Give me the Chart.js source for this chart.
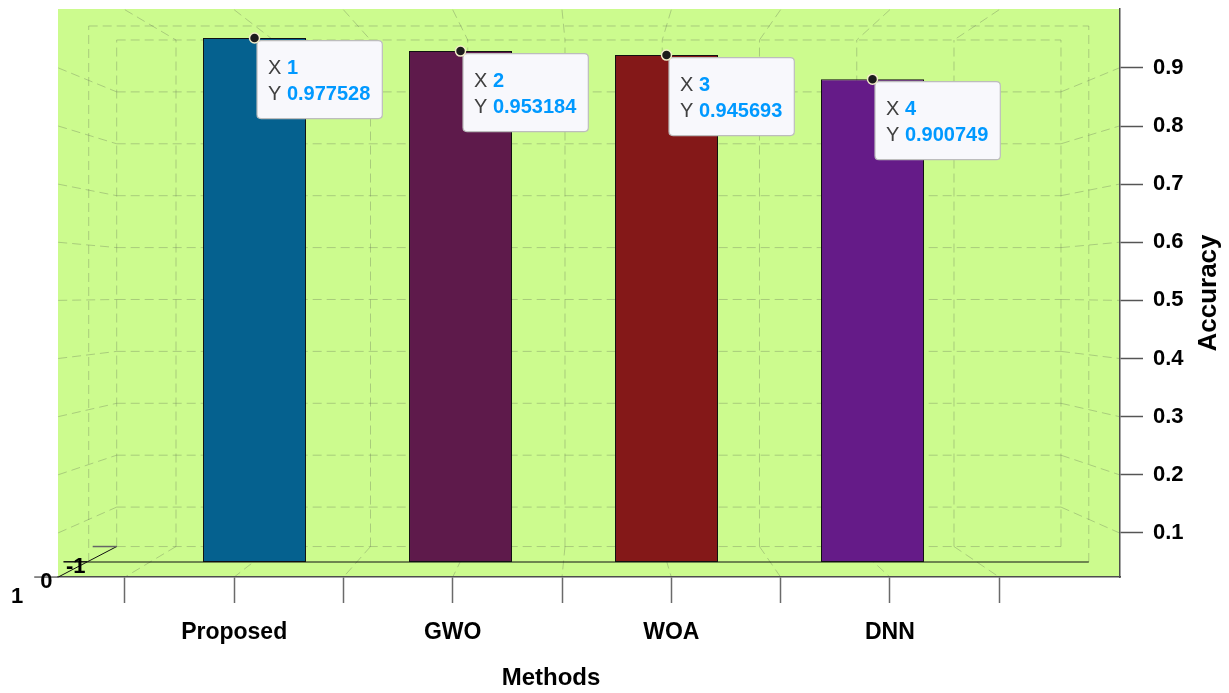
<!DOCTYPE html>
<html>
<head>
<meta charset="utf-8">
<title>Accuracy by method</title>
<script src="https://cdn.jsdelivr.net/npm/chart.js@4/dist/chart.umd.min.js"></script>
<style>
  html, body { margin: 0; padding: 0; background: #ffffff; }
  #wrap { width: 1229px; height: 693px; position: relative; }
</style>
</head>
<body>
<div id="wrap"><canvas id="chart"></canvas></div>
<script>
// ---- data ----
const methods = ['Proposed', 'GWO', 'WOA', 'DNN'];
const methodIndex = [1, 2, 3, 4];
const accuracy = [0.977528, 0.953184, 0.945693, 0.900749];
const accuracyTicks = [0.1, 0.2, 0.3, 0.4, 0.5, 0.6, 0.7, 0.8, 0.9];
const methodTicks = [0.5, 1, 1.5, 2, 2.5, 3, 3.5, 4, 4.5];
const depthTicks = [1, 0, -1];
const depthLabels = ['1', '0', '-1'];

// ---- styles ----
const barColors = ['#05618f', '#5e1a4b', '#841818', '#651b88'];
const FONT = "'Liberation Sans', Arial, Helvetica, sans-serif";
const PANEL = '#ccfb8e';
const GRID = 'rgba(85, 95, 80, 0.30)';

// box limits of the 3-D axes (x in method units, z in accuracy units)
const X_LIM = [0.195, 5.05];
const Z_LIM = [0.024, 1.0];

// front, bar and back planes of the perspective box share the canvas area
// but each has its own scale pair.
const P = (sx, sy, u, v) => [sx.getPixelForValue(u), sy.getPixelForValue(v)];

const panel = {
  id: 'panel',
  beforeDraw(chart) {
    const { ctx, chartArea: a } = chart;
    ctx.save();
    ctx.fillStyle = PANEL;
    ctx.fillRect(a.left, a.top, a.width, a.height);
    ctx.restore();
  }
};

const perspectiveGrid = {
  id: 'perspectiveGrid',
  beforeDatasetsDraw(chart) {
    const { ctx, chartArea: a, scales: s } = chart;
    const xf = s.x, yf = s.y, xm = s.xBar, ym = s.yBar, xb = s.xBack, yb = s.yBack;
    const [x0, x1] = X_LIM, [zLo, zHi] = Z_LIM;
    const seg = (p, q) => { ctx.beginPath(); ctx.moveTo(p[0], p[1]); ctx.lineTo(q[0], q[1]); ctx.stroke(); };
    ctx.save();
    ctx.beginPath(); ctx.rect(a.left, a.top, a.width, a.height); ctx.clip();
    ctx.setLineDash([9, 5]);
    ctx.strokeStyle = GRID;
    ctx.lineWidth = 1;

    // back wall
    accuracyTicks.concat([zLo, zHi]).forEach(z => seg(P(xb, yb, x0, z), P(xb, yb, x1, z)));
    methodTicks.concat([x0, x1]).forEach(u => seg(P(xb, yb, u, zLo), P(xb, yb, u, zHi)));

    // side walls
    accuracyTicks.forEach(z => {
      seg(P(xf, yf, x0, z), P(xb, yb, x0, z));
      seg(P(xb, yb, x1, z), P(xf, yf, x1, z));
    });

    // ceiling and floor
    methodTicks.forEach(u => {
      seg(P(xf, yf, u, zHi), P(xb, yb, u, zHi));
      seg(P(xb, yb, u, zLo), P(xf, yf, u, zLo));
    });

    // frame of the bar plane
    seg(P(xm, ym, x0, 0), P(xm, ym, x0, 1));
    seg(P(xm, ym, x1, 0), P(xm, ym, x1, 1));
    seg(P(xm, ym, x0, 1), P(xm, ym, x1, 1));
    ctx.restore();
  }
};

const depthAxis = {
  id: 'depthAxis',
  afterDatasetsDraw(chart) {
    const { ctx, scales: s } = chart;
    const front = P(s.x, s.y, X_LIM[0], Z_LIM[0]);
    const back = P(s.xBack, s.yBack, X_LIM[0], Z_LIM[0]);
    const at = d => {
      const t = (1 - d) / 2;
      return [front[0] + t * (back[0] - front[0]), front[1] + t * (back[1] - front[1])];
    };
    ctx.save();
    // baseline of the bars
    const base = at(0);
    ctx.strokeStyle = '#111';
    ctx.lineWidth = 1.2;
    ctx.beginPath();
    ctx.moveTo(base[0], s.yBar.getPixelForValue(0));
    ctx.lineTo(s.xBar.getPixelForValue(X_LIM[1]), s.yBar.getPixelForValue(0));
    ctx.stroke();
    // depth edge
    ctx.lineWidth = 1;
    ctx.beginPath(); ctx.moveTo(front[0], front[1]); ctx.lineTo(back[0], back[1]); ctx.stroke();
    // ticks and labels
    ctx.font = `bold 22px ${FONT}`;
    ctx.textAlign = 'center';
    ctx.textBaseline = 'middle';
    depthTicks.forEach((d, i) => {
      const p = at(d);
      ctx.strokeStyle = i === 1 ? '#111' : '#666';
      ctx.lineWidth = 1.5;
      ctx.beginPath(); ctx.moveTo(p[0] - 24, p[1]); ctx.lineTo(p[0], p[1]); ctx.stroke();
      ctx.fillStyle = '#000';
      ctx.fillText(depthLabels[i], p[0] - 41, p[1] + 20);
    });
    ctx.restore();
  }
};

function roundRect(ctx, x, y, w, h, r) {
  ctx.beginPath();
  ctx.moveTo(x + r, y);
  ctx.lineTo(x + w - r, y); ctx.quadraticCurveTo(x + w, y, x + w, y + r);
  ctx.lineTo(x + w, y + h - r); ctx.quadraticCurveTo(x + w, y + h, x + w - r, y + h);
  ctx.lineTo(x + r, y + h); ctx.quadraticCurveTo(x, y + h, x, y + h - r);
  ctx.lineTo(x, y + r); ctx.quadraticCurveTo(x, y, x + r, y);
  ctx.closePath();
}

const dataTips = {
  id: 'dataTips',
  afterDatasetsDraw(chart) {
    const { ctx } = chart;
    const meta = chart.getDatasetMeta(0);
    ctx.save();
    meta.data.forEach((bar, i) => {
      const x = bar.x, y = bar.y;
      const lines = [['X ', String(methodIndex[i])], ['Y ', String(accuracy[i])]];
      const reg = `20px ${FONT}`, bold = `bold 20px ${FONT}`;
      let w = 0;
      lines.forEach(([k, v]) => {
        ctx.font = reg; const kw = ctx.measureText(k).width;
        ctx.font = bold; const vw = ctx.measureText(v).width;
        w = Math.max(w, kw + vw);
      });
      const bx = x + 2.5, by = y + 2.5, bw = w + 23, bh = 78;
      ctx.fillStyle = '#f8f8fc';
      ctx.strokeStyle = '#bdbdbd';
      ctx.lineWidth = 1.2;
      roundRect(ctx, bx, by, bw, bh, 4);
      ctx.fill(); ctx.stroke();
      ctx.textBaseline = 'middle';
      ctx.textAlign = 'left';
      lines.forEach(([k, v], j) => {
        const ty = by + 27.5 + j * 26.5;
        ctx.font = reg; ctx.fillStyle = '#404040';
        ctx.fillText(k, bx + 11, ty);
        const kw = ctx.measureText(k).width;
        ctx.font = bold; ctx.fillStyle = '#0099ff';
        ctx.fillText(v, bx + 11 + kw, ty);
      });
      // marker on the bar top
      ctx.beginPath();
      ctx.arc(x, y, 5, 0, Math.PI * 2);
      ctx.fillStyle = '#1c1c1c';
      ctx.fill();
      ctx.lineWidth = 1.5;
      ctx.strokeStyle = '#f2edc8';
      ctx.stroke();
    });
    ctx.restore();
  }
};

const axisTitles = {
  id: 'axisTitles',
  afterDraw(chart) {
    const { ctx, chartArea: a } = chart;
    ctx.save();
    ctx.fillStyle = '#000';
    ctx.font = `bold 24px ${FONT}`;
    ctx.textAlign = 'center';
    ctx.textBaseline = 'alphabetic';
    ctx.fillText('Methods', (a.left + a.right) / 2 - 38, a.bottom + 108);
    ctx.translate(a.right + 89, (a.top + a.bottom) / 2);
    ctx.rotate(-Math.PI / 2);
    ctx.font = `bold 26px ${FONT}`;
    ctx.textBaseline = 'middle';
    ctx.fillText('Accuracy', 0, 0);
    ctx.restore();
  }
};

const noOverflow = sc => { sc.paddingTop = 0; sc.paddingBottom = 0; sc.paddingLeft = 0; sc.paddingRight = 0; };

new Chart(document.getElementById('chart'), {
  type: 'bar',
  data: {
    datasets: [{
      data: methodIndex.map((m, i) => ({ x: m, y: accuracy[i] })),
      xAxisID: 'xBar',
      yAxisID: 'yBar',
      backgroundColor: barColors,
      borderColor: '#111',
      borderWidth: 1,
      borderSkipped: false,
      barPercentage: 0.5,
      categoryPercentage: 1
    }]
  },
  options: {
    responsive: true,
    maintainAspectRatio: false,
    animation: false,
    layout: { padding: { left: 58, top: 9, right: 0, bottom: 0 } },
    plugins: { legend: { display: false }, tooltip: { enabled: false } },
    scales: {
      x: {
        type: 'linear', position: 'bottom', min: 0.194, max: 5.053, offset: false,
        afterBuildTicks: sc => { sc.ticks = methodTicks.map(v => ({ value: v })); },
        afterFit: sc => { sc.height = 116; noOverflow(sc); },
        grid: { offset: false, drawOnChartArea: false, drawTicks: true, tickLength: 26, tickColor: '#6a6a6a', tickWidth: 1.5 },
        border: { display: true, color: '#4d4d4d', width: 1.5 },
        ticks: {
          autoSkip: false, maxRotation: 0, padding: 16, color: '#000',
          font: { family: FONT, size: 23, weight: 'bold' },
          callback: v => (Number.isInteger(v) ? methods[methodIndex.indexOf(v)] : '')
        }
      },
      y: {
        type: 'linear', position: 'right', min: 0.0241, max: 1.0013, offset: false,
        afterBuildTicks: sc => { sc.ticks = accuracyTicks.map(v => ({ value: v })); },
        afterFit: sc => { sc.width = 109; noOverflow(sc); },
        grid: { drawOnChartArea: false, drawTicks: true, tickLength: 23, tickColor: '#555', tickWidth: 1.5 },
        border: { display: true, color: '#4d4d4d', width: 1.5 },
        ticks: {
          padding: 10, color: '#000',
          font: { family: FONT, size: 22, weight: 'bold' },
          callback: v => v.toFixed(1)
        }
      },
      xBar: {
        type: 'linear', display: false, offset: false, grid: { offset: false }, min: 0.046, max: 5.2015,
        afterBuildTicks: sc => { sc.ticks = methodIndex.map(v => ({ value: v })); }
      },
      yBar: { type: 'linear', display: false, offset: false, min: -0.028, max: 1.0317 },
      xBack: { type: 'linear', display: false, offset: false, grid: { offset: false }, min: -0.1067, max: 5.3535 },
      yBack: { type: 'linear', display: false, offset: false, min: -0.0347, max: 1.0597 }
    }
  },
  plugins: [panel, perspectiveGrid, depthAxis, dataTips, axisTitles]
});
</script>
</body>
</html>
